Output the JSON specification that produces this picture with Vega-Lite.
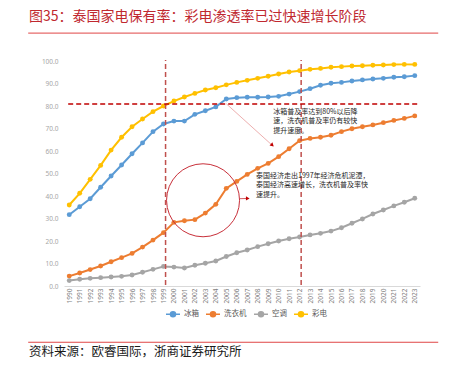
{
  "$schema": "https://vega.github.io/schema/vega-lite/v6.json",
  "width": 356,
  "height": 225,
  "autosize": {"type": "none"},
  "padding": {"left": 64, "top": 61, "right": 35, "bottom": 80},
  "background": "white",
  "config": {
    "view": {"stroke": null},
    "font": "Noto Sans CJK SC",
    "axisX": {"labelOverlap": false, "labelAngle": -90, "labelFontSize": 6.5, "labelColor": "#7F7F7F", "labelFont": "Noto Sans", "ticks": false, "grid": false, "domainColor": "#D9D9D9", "labelPadding": 2, "labelFlush": false, "title": null},
    "axisY": {"labelOverlap": false, "grid": false, "domain": false, "ticks": false, "labelFontSize": 6.5, "labelColor": "#A6A6A6", "labelFont": "Noto Sans", "labelPadding": 6, "title": null}
  },
  "title": {
    "text": "图35：泰国家电保有率：彩电渗透率已过快速增长阶段",
    "anchor": "start",
    "frame": "group",
    "dx": -35,
    "dy": 14,
    "offset": 9,
    "baseline": "bottom",
    "fontSize": 14,
    "fontWeight": "normal",
    "color": "#C0282F"
  },
  "resolve": {"axis": {"x": "independent", "y": "independent"}},
  "layer": [
    {
      "data": {"values": [
        {"year": 1990, "冰箱": 31.7, "洗衣机": 4.4, "空调": 2.4, "彩电": 36.0},
        {"year": 1991, "冰箱": 35.2, "洗衣机": 5.8, "空调": 3.0, "彩电": 41.2},
        {"year": 1992, "冰箱": 38.8, "洗衣机": 7.3, "空调": 3.4, "彩电": 47.4},
        {"year": 1993, "冰箱": 43.9, "洗衣机": 8.9, "空调": 3.7, "彩电": 53.6},
        {"year": 1994, "冰箱": 48.9, "洗衣机": 10.8, "空调": 4.0, "彩电": 60.4},
        {"year": 1995, "冰箱": 53.8, "洗衣机": 12.6, "空调": 4.3, "彩电": 66.1},
        {"year": 1996, "冰箱": 58.8, "洗衣机": 14.5, "空调": 4.9, "彩电": 70.8},
        {"year": 1997, "冰箱": 63.6, "洗衣机": 17.3, "空调": 6.1, "彩电": 74.2},
        {"year": 1998, "冰箱": 68.6, "洗衣机": 20.4, "空调": 7.4, "彩电": 77.5},
        {"year": 1999, "冰箱": 72.0, "洗衣机": 23.7, "空调": 8.7, "彩电": 80.0},
        {"year": 2000, "冰箱": 73.3, "洗衣机": 28.3, "空调": 8.4, "彩电": 82.2},
        {"year": 2001, "冰箱": 73.3, "洗衣机": 29.0, "空调": 8.0, "彩电": 84.0},
        {"year": 2002, "冰箱": 76.3, "洗衣机": 29.5, "空调": 9.2, "彩电": 85.6},
        {"year": 2003, "冰箱": 77.9, "洗衣机": 32.4, "空调": 10.1, "彩电": 87.1},
        {"year": 2004, "冰箱": 79.6, "洗衣机": 36.3, "空调": 11.1, "彩电": 88.1},
        {"year": 2005, "冰箱": 83.1, "洗衣机": 43.4, "空调": 13.1, "彩电": 89.4},
        {"year": 2006, "冰箱": 83.7, "洗衣机": 46.5, "空调": 14.8, "彩电": 90.5},
        {"year": 2007, "冰箱": 83.9, "洗衣机": 49.6, "空调": 16.0, "彩电": 91.4},
        {"year": 2008, "冰箱": 83.9, "洗衣机": 52.3, "空调": 17.5, "彩电": 92.3},
        {"year": 2009, "冰箱": 84.0, "洗衣机": 54.5, "空调": 18.8, "彩电": 93.2},
        {"year": 2010, "冰箱": 84.3, "洗衣机": 57.5, "空调": 20.0, "彩电": 94.2},
        {"year": 2011, "冰箱": 85.3, "洗衣机": 61.0, "空调": 21.0, "彩电": 95.1},
        {"year": 2012, "冰箱": 86.4, "洗衣机": 64.6, "空调": 21.8, "彩电": 95.7},
        {"year": 2013, "冰箱": 87.7, "洗衣机": 65.6, "空调": 22.7, "彩电": 96.3},
        {"year": 2014, "冰箱": 89.2, "洗衣机": 66.1, "空调": 23.4, "彩电": 96.7},
        {"year": 2015, "冰箱": 90.1, "洗衣机": 67.0, "空调": 24.4, "彩电": 97.2},
        {"year": 2016, "冰箱": 90.5, "洗衣机": 68.6, "空调": 25.9, "彩电": 97.5},
        {"year": 2017, "冰箱": 91.1, "洗衣机": 69.9, "空调": 27.9, "彩电": 97.8},
        {"year": 2018, "冰箱": 91.6, "洗衣机": 70.8, "空调": 29.8, "彩电": 97.9},
        {"year": 2019, "冰箱": 92.0, "洗衣机": 71.6, "空调": 32.0, "彩电": 98.1},
        {"year": 2020, "冰箱": 92.3, "洗衣机": 72.6, "空调": 33.8, "彩电": 98.2},
        {"year": 2021, "冰箱": 92.8, "洗衣机": 73.6, "空调": 35.6, "彩电": 98.4},
        {"year": 2022, "冰箱": 93.0, "洗衣机": 74.5, "空调": 37.2, "彩电": 98.5},
        {"year": 2023, "冰箱": 93.5, "洗衣机": 75.6, "空调": 39.0, "彩电": 98.5}
      ]},
      "transform": [{"fold": ["冰箱", "洗衣机", "空调", "彩电"], "as": ["series", "value"]}],
      "mark": {"type": "line", "strokeWidth": 2, "point": {"filled": true, "size": 24}},
      "encoding": {
        "x": {
          "field": "year",
          "type": "quantitative",
          "scale": {"domain": [1989.5, 2023.5], "nice": false, "zero": false},
          "axis": {
            "values": [1990, 1991, 1992, 1993, 1994, 1995, 1996, 1997, 1998, 1999, 2000, 2001, 2002, 2003, 2004, 2005, 2006, 2007, 2008, 2009, 2010, 2011, 2012, 2013, 2014, 2015, 2016, 2017, 2018, 2019, 2020, 2021, 2022, 2023],
            "format": "d",
            "labelOverlap": false,
            "labelSeparation": 0,
            "title": null
          }
        },
        "y": {
          "field": "value",
          "type": "quantitative",
          "scale": {"domain": [0, 100], "nice": false},
          "axis": {
            "values": [0, 10, 20, 30, 40, 50, 60, 70, 80, 90, 100],
            "format": ".1f",
            "title": null
          }
        },
        "color": {
          "field": "series",
          "type": "nominal",
          "sort": ["冰箱", "洗衣机", "空调", "彩电"],
          "scale": {"domain": ["冰箱", "洗衣机", "空调", "彩电"], "range": ["#5B9BD5", "#ED7D31", "#A5A5A5", "#FFC000"]},
          "legend": {
            "title": null,
            "orient": "none",
            "legendX": 101,
            "legendY": 245,
            "direction": "horizontal",
            "columns": 4,
            "symbolType": "M-1,0L1,0M0.36,0A0.36,0.36,0,1,1,-0.36,0A0.36,0.36,0,1,1,0.36,0Z",
            "symbolSize": 196,
            "symbolStrokeWidth": 1.5,
            "labelFontSize": 7.5,
            "labelColor": "#595959",
            "labelOffset": 3,
            "columnPadding": 4,
            "encode": {"symbols": {"update": {"fill": {"scale": "color", "field": "value"}}}}
          }
        }
      }
    },
    {
      "data": {"values": [{}]},
      "mark": {"type": "rule", "strokeDash": [5, 3], "strokeWidth": 1.5, "color": "#C0504D"},
      "encoding": {
        "x": {"datum": 1999.2, "type": "quantitative", "axis": null},
        "y": {"datum": 0.5, "type": "quantitative", "axis": null},
        "y2": {"datum": 100.5}
      }
    },
    {
      "data": {"values": [{}]},
      "mark": {"type": "rule", "strokeDash": [5, 3], "strokeWidth": 1.5, "color": "#C0504D"},
      "encoding": {
        "x": {"datum": 2012.15, "type": "quantitative", "axis": null},
        "y": {"datum": 0.5, "type": "quantitative", "axis": null},
        "y2": {"datum": 100.5}
      }
    },
    {
      "data": {"values": [{}]},
      "mark": {"type": "rule", "strokeDash": [5, 3], "strokeWidth": 1.5, "color": "#C00000"},
      "encoding": {
        "x": {"datum": 1989.9, "type": "quantitative", "axis": null},
        "x2": {"datum": 2023.45},
        "y": {"datum": 80.9, "type": "quantitative", "axis": null}
      }
    },
    {
      "data": {"values": [{}]},
      "mark": {"type": "point", "shape": "circle", "size": 5330, "filled": false, "stroke": "#C8303A", "strokeWidth": 1, "opacity": 1},
      "encoding": {
        "x": {"datum": 2002.78, "type": "quantitative", "axis": null},
        "y": {"datum": 38.1, "type": "quantitative", "axis": null}
      }
    },
    {
      "data": {"values": [{}]},
      "mark": {"type": "rule", "color": "#E89A9A", "strokeWidth": 0.8},
      "encoding": {
        "x": {"datum": 2005, "type": "quantitative", "axis": null},
        "y": {"datum": 81.0, "type": "quantitative", "axis": null},
        "x2": {"datum": 2009.35},
        "y2": {"datum": 62.7}
      }
    },
    {
      "data": {"values": [{}]},
      "mark": {"type": "point", "shape": "triangle-up", "angle": 132, "size": 18, "filled": true, "color": "#C00000", "opacity": 1},
      "encoding": {
        "x": {"datum": 2009.4, "type": "quantitative", "axis": null},
        "y": {"datum": 62.6, "type": "quantitative", "axis": null}
      }
    },
    {
      "data": {"values": [{}]},
      "mark": {"type": "rule", "color": "#C8303A", "strokeWidth": 0.8},
      "encoding": {
        "x": {"datum": 2006.3, "type": "quantitative", "axis": null},
        "y": {"datum": 38.8, "type": "quantitative", "axis": null},
        "x2": {"datum": 2006.95},
        "y2": {"datum": 38.9}
      }
    },
    {
      "data": {"values": [{}]},
      "mark": {"type": "point", "shape": "triangle-right", "size": 18, "filled": true, "color": "#C00000", "opacity": 1},
      "encoding": {
        "x": {"datum": 2007.05, "type": "quantitative", "axis": null},
        "y": {"datum": 38.9, "type": "quantitative", "axis": null}
      }
    },
    {
      "data": {"values": [{}]},
      "mark": {"type": "text", "align": "left", "baseline": "top", "fontSize": 7, "lineHeight": 9.5, "color": "#262626",
        "text": ["冰箱普及率达到80%以后降", "速，洗衣机普及率仍有较快", "提升速度。"]},
      "encoding": {
        "x": {"datum": 2009.49, "type": "quantitative", "axis": null},
        "y": {"datum": 79.2, "type": "quantitative", "axis": null}
      }
    },
    {
      "data": {"values": [{}]},
      "mark": {"type": "text", "align": "left", "baseline": "top", "fontSize": 7, "lineHeight": 9.5, "color": "#262626",
        "text": ["泰国经济走出1997年经济危机泥潭，", "泰国经济高速增长，洗衣机普及率快", "速提升。"]},
      "encoding": {
        "x": {"datum": 2007.84, "type": "quantitative", "axis": null},
        "y": {"datum": 50.7, "type": "quantitative", "axis": null}
      }
    },
    {
      "data": {"values": [{}]},
      "mark": {"type": "rule", "color": "#E04545", "strokeWidth": 1},
      "encoding": {
        "x": {"datum": 1986.08, "type": "quantitative", "axis": null},
        "x2": {"datum": 2025.24},
        "y": {"datum": 112.4, "type": "quantitative", "axis": null}
      }
    },
    {
      "data": {"values": [{}]},
      "mark": {"type": "rule", "color": "#E04545", "strokeWidth": 1},
      "encoding": {
        "x": {"datum": 1986.08, "type": "quantitative", "axis": null},
        "x2": {"datum": 2025.24},
        "y": {"datum": -25.0, "type": "quantitative", "axis": null}
      }
    },
    {
      "data": {"values": [{}]},
      "mark": {"type": "text", "align": "left", "baseline": "middle", "fontSize": 12.5, "color": "#1A1A1A",
        "text": "资料来源：欧睿国际，浙商证券研究所"},
      "encoding": {
        "x": {"datum": 1986.16, "type": "quantitative", "axis": null},
        "y": {"datum": -29.2, "type": "quantitative", "axis": null}
      }
    }
  ]
}
